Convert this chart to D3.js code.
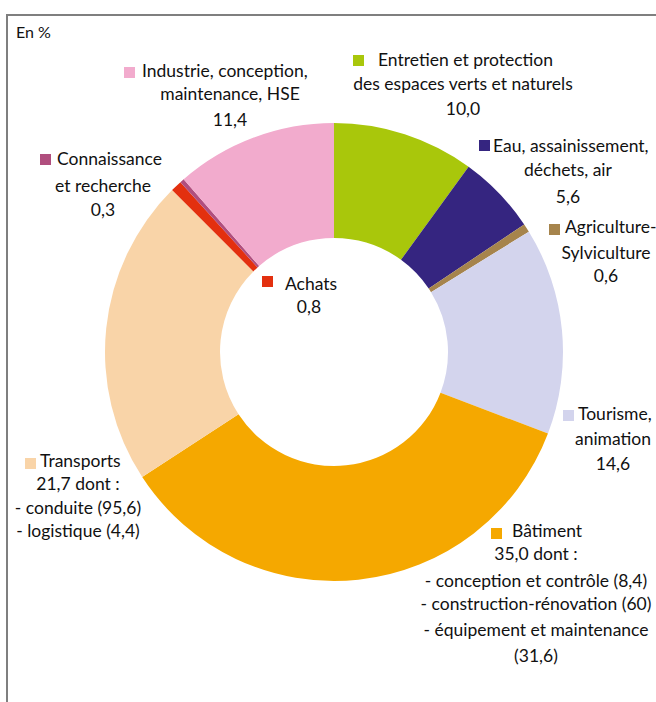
<!DOCTYPE html>
<html lang="fr">
<head>
<meta charset="utf-8">
<script src="https://cdn.jsdelivr.net/npm/d3@7"></script>
<style>
  html, body { margin: 0; padding: 0; background: #fff; }
  svg text { font-family: Lato, "Liberation Sans Narrow", sans-serif; fill: #111; }
</style>
</head>
<body>
<svg id="chart" width="656" height="702"></svg>
<script>
// Sectors, clockwise from the top
const sectors = ["Entretien", "Eau", "Agriculture", "Tourisme", "Batiment", "Transports", "Achats", "Connaissance", "Industrie"];
const shares = [10.0, 5.6, 0.6, 14.6, 35.0, 21.7, 0.8, 0.3, 11.4];
const colors = ["#a9c70b", "#352580", "#a6844c", "#d3d4ed", "#f5a800", "#f9d4a8", "#e3300f", "#b04e7e", "#f2abcd"];

// Label lines per sector (first line follows the colour key)
const labelLines = [
  ["Entretien et protection", "des espaces verts et naturels", "10,0"],
  ["Eau, assainissement,", "déchets, air", "5,6"],
  ["Agriculture-", "Sylviculture", "0,6"],
  ["Tourisme,", "animation", "14,6"],
  ["Bâtiment", "35,0 dont :", "- conception et contrôle (8,4)", "- construction-rénovation (60)", "- équipement et maintenance", "(31,6)"],
  ["Transports", "21,7 dont :", "- conduite (95,6)", "- logistique (4,4)"],
  ["Achats", "0,8"],
  ["Connaissance", "et recherche", "0,3"],
  ["Industrie, conception,", "maintenance, HSE", "11,4"]
];

const svg = d3.select("#chart");
const fontSize = 17.5;

// Frame
svg.append("path")
  .attr("d", "M7,702 V15 H656")
  .attr("fill", "none")
  .attr("stroke", "#7f7f7f")
  .attr("stroke-width", 2);

svg.append("text").attr("x", 16).attr("y", 38)
  .attr("font-size", 16).text("En %");

// Donut
const cx = 334, cy = 352, outerR = 229, innerR = 114;
const pie = d3.pie().sort(null).value(d => d.v).startAngle(0).endAngle(2 * Math.PI);
const arc = d3.arc().innerRadius(innerR).outerRadius(outerR);
const data = sectors.map((s, i) => ({ s, v: shares[i], c: colors[i] }));

svg.append("g").attr("transform", `translate(${cx},${cy})`)
  .selectAll("path").data(pie(data)).join("path")
  .attr("d", arc)
  .attr("fill", d => d.data.c);

// Label layout: key square, first line start, centre of following lines, baselines
const layout = [
  { sq: [353, 55], x1: 378, xc: 463, ys: [66, 90, 115] },
  { sq: [479, 140], x1: 493, xc: 568, ys: [152, 176, 203] },
  { sq: [549, 224], x1: 565, xc: 606, ys: [233, 259, 282] },
  { sq: [563, 410], x1: 578, xc: 613, ys: [420, 445, 470] },
  { sq: [491, 528], x1: 512, xc: 536, ys: [537, 560, 587, 610, 636, 662] },
  { sq: [25, 458], x1: 40, xc: 78, ys: [467, 490, 514, 537] },
  { sq: [262, 276], x1: 285, xc: 309, ys: [290, 313] },
  { sq: [40, 154], x1: 57, xc: 103, ys: [165, 192, 216] },
  { sq: [124, 67], x1: 142, xc: 230, ys: [77, 100, 126] }
];

const labels = svg.append("g");
layout.forEach((L, i) => {
  labels.append("rect")
    .attr("x", L.sq[0]).attr("y", L.sq[1])
    .attr("width", 11).attr("height", 11)
    .attr("fill", colors[i]);
  labelLines[i].forEach((t, j) => {
    labels.append("text")
      .attr("x", j === 0 ? L.x1 : L.xc)
      .attr("y", L.ys[j])
      .attr("text-anchor", j === 0 ? "start" : "middle")
      .attr("font-size", fontSize)
      .text(t);
  });
});
</script>
</body>
</html>
